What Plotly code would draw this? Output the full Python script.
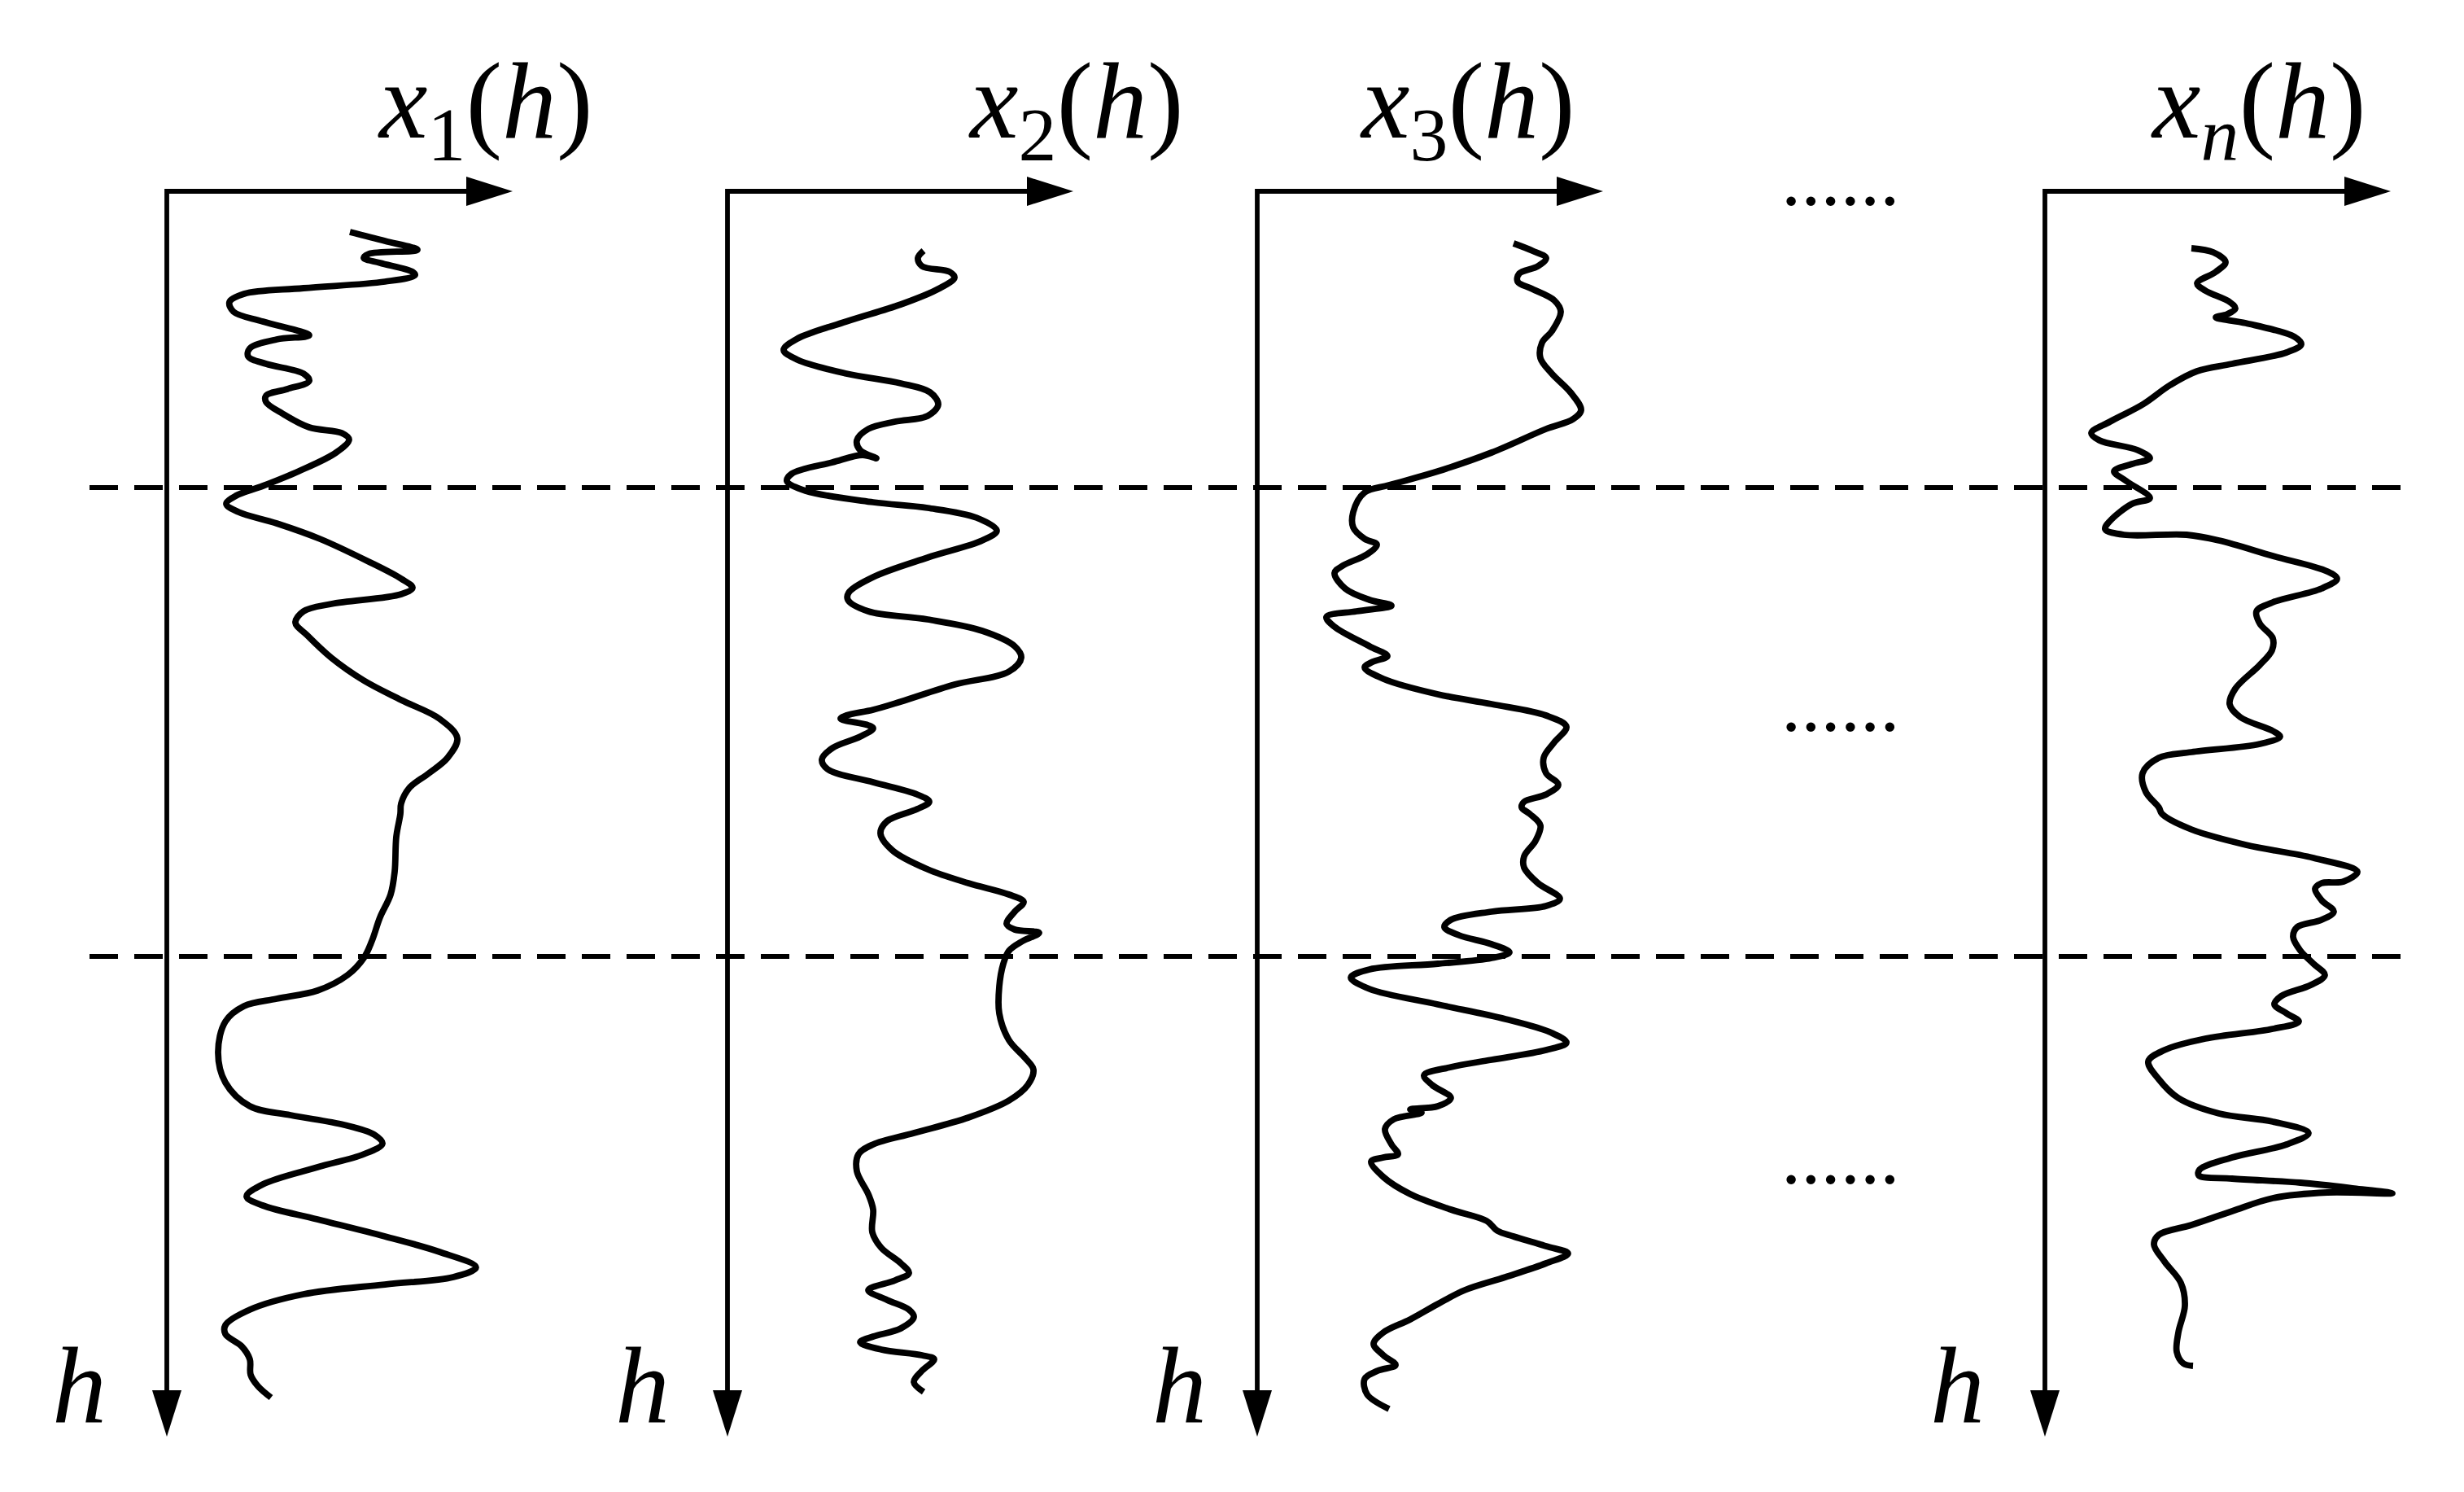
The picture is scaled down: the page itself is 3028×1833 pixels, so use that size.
import plotly.graph_objects as go

# ---------------- data (value x_i(h) measured from each panel's h-axis, depth h downward) ----------------
curve1_h = [50, 61, 72, 77, 82, 88, 99, 103, 111, 119, 126, 136, 148, 160, 177, 182, 193, 203, 212, 224,
            233, 243, 251, 259, 273, 290, 297, 305, 321, 344, 362, 374, 384, 394, 408, 427, 455, 476, 487,
            495, 507, 516, 530, 545, 573, 601, 625, 648, 672, 696, 715, 733, 752, 765, 793, 836, 864, 892,
            921, 942, 963, 982, 992, 1001, 1020, 1058, 1095, 1124, 1135, 1147, 1159, 1170, 1183, 1199, 1220,
            1235, 1246, 1263, 1284, 1303, 1322, 1334, 1343, 1355, 1374, 1393, 1404, 1419, 1435, 1454, 1468, 1482]
curve1_x = [225, 268, 308, 248, 242, 262, 302, 305, 268, 168, 95, 77, 82, 118, 175, 135, 102, 100, 122, 168,
            175, 148, 122, 122, 142, 175, 215, 224, 208, 162, 118, 85, 73, 88, 135, 188, 248, 288, 302,
            288, 202, 168, 158, 172, 202, 242, 288, 335, 357, 345, 322, 298, 288, 287, 282, 280, 275, 262,
            252, 242, 222, 185, 135, 95, 72, 63, 72, 102, 152, 218, 255, 265, 242, 185, 118,
            98, 118, 185, 268, 335, 380, 352, 268, 168, 102, 72, 72, 92, 102, 103, 112, 128]

curve2_h = [73, 82, 92, 99, 106, 120, 139, 160, 181, 195, 207, 224, 236, 247, 262, 276, 283, 292, 306, 318,
            328, 324, 333, 347, 356, 368, 382, 389, 401, 417, 429, 450, 474, 493, 502, 516, 526, 540, 559,
            573, 590, 606, 627, 637, 644, 648, 656, 660, 670, 684, 698, 710, 726, 741, 750, 759, 774, 789,
            810, 833, 850, 864, 873, 885, 900, 907, 911, 921, 933, 949, 977, 1010, 1043, 1065, 1079, 1098,
            1117, 1138, 1157, 1171, 1183, 1204, 1232, 1251, 1279, 1298, 1317, 1329, 1338, 1350, 1362, 1374,
            1383, 1397, 1407, 1414, 1423, 1430, 1435, 1449, 1463, 1475]
curve2_x = [241, 234, 239, 273, 279, 259, 213, 146, 86, 69, 86, 146, 213, 249, 259, 246, 206, 173, 159, 163,
            183, 166, 129, 79, 73, 96, 179, 246, 306, 331, 313, 246, 179, 149, 148, 173, 246, 313, 353,
            361, 346, 279, 213, 179, 146, 139, 173, 179, 163, 129, 116, 123, 179, 233, 248, 233, 196, 188,
            203, 246, 296, 346, 364, 353, 343, 353, 383, 363, 346, 339, 334, 334, 346, 366, 376, 369,
            346, 296, 229, 179, 161, 159, 173, 179, 178, 189, 213, 223, 206, 173, 196, 223,
            229, 213, 179, 163, 189, 239, 254, 239, 229, 241]

curve3_h = [64, 73, 82, 92, 101, 111, 120, 134, 148, 172, 186, 205, 224, 247, 269, 280, 292, 321, 344, 361,
            370, 394, 413, 427, 434, 446, 460, 469, 488, 502, 509, 516, 523, 535, 559, 571, 578, 585, 599,
            618, 630, 644, 658, 677, 696, 715, 729, 741, 750, 757, 765, 779, 798, 817, 831, 850, 869, 878,
            885, 895, 904, 914, 925, 935, 942, 949, 956, 966, 980, 999, 1017, 1034, 1046, 1055, 1067, 1076,
            1086, 1098, 1114, 1124, 1128, 1132, 1140, 1152, 1171, 1183, 1187, 1192, 1211, 1232, 1251, 1265,
            1277, 1284, 1296, 1305, 1317, 1334, 1350, 1367, 1386, 1402, 1416, 1430, 1442, 1449, 1459, 1478, 1496]
curve3_x = [315, 338, 355, 345, 322, 320, 338, 365, 373, 362, 350, 348, 362, 385, 398, 388, 355, 288, 222, 162,
            132, 118, 118, 132, 147, 135, 105, 95, 108, 138, 165, 122, 85, 95, 138, 160, 142, 132, 155,
            222, 288, 355, 380, 365, 352, 355, 370, 355, 328, 325, 335, 348, 342, 328, 328, 345, 372, 355,
            288, 238, 230, 248, 288, 310, 288, 222, 138, 115, 138, 222, 305, 362, 380, 355, 288, 238,
            205, 215, 238, 222, 188, 202, 168, 157, 165, 173, 155, 140, 155, 188, 238, 282,
            295, 315, 355, 382, 355, 305, 255, 222, 188, 155, 143, 155, 170, 148, 132, 135, 162]

curven_h = [70, 75, 87, 99, 113, 122, 136, 144, 151, 155, 162, 179, 188, 198, 212, 221, 238, 262, 283, 297,
            306, 318, 328, 335, 344, 356, 377, 384, 405, 415, 422, 422, 429, 448, 467, 476, 488, 505, 516,
            531, 549, 564, 582, 611, 630, 646, 663, 670, 679, 689, 696, 715, 738, 757, 765, 784, 803, 819,
            836, 848, 850, 857, 871, 885, 895, 904, 916, 933, 949, 963, 975, 989, 999, 1010, 1020, 1029,
            1041, 1055, 1069, 1091, 1114, 1133, 1143, 1157, 1171, 1187, 1202, 1209, 1213, 1218, 1225, 1231,
            1230, 1237, 1253, 1270, 1282, 1294, 1315, 1341, 1369, 1402, 1426, 1440, 1443]
curven_x = [180, 207, 222, 210, 187, 197, 227, 234, 224, 210, 247, 307, 315, 297, 230, 187, 154, 120, 80, 57,
            67, 114, 129, 107, 85, 100, 129, 107, 80, 74, 97, 174, 214, 280, 347, 359, 340, 280, 260,
            264, 280, 279, 264, 234, 227, 240, 280, 289, 264, 180, 140, 120, 124, 140, 144, 180, 247, 330,
            384, 367, 340, 332, 340, 355, 340, 310, 305, 314, 330, 344, 327, 290, 282, 297, 312, 280,
            197, 147, 127, 140, 164, 214, 280, 324, 297, 230, 190, 189, 230, 314, 380, 427,
            347, 280, 230, 180, 140, 134, 147, 167, 172, 164, 162, 170, 182]

panel_labels = ["<i>x</i><sub>1</sub>(<i>h</i>)", "<i>x</i><sub>2</sub>(<i>h</i>)",
                "<i>x</i><sub>3</sub>(<i>h</i>)", "<i>x</i><sub><i>n</i></sub>(<i>h</i>)"]
depth_label = "<i>h</i>"
ellipsis_text = "......"

curves = [(curve1_x, curve1_h), (curve2_x, curve2_h), (curve3_x, curve3_h), (curven_x, curven_h)]

# ---------------- layout geometry (page pixels of the 3028x1833 window) ----------------
PAGE_W, PAGE_H = 3028, 1833
BODY = 8                               # default body margin of the html page
W, H = PAGE_W - 2 * BODY, PAGE_H - 2 * BODY
ORIGINS = [205, 894, 1545, 2513]       # page x pixel of each panel's h axis
TOP = 235                              # page y pixel of the x_i(h) axes
XMIN, XMAX = -140, 460                 # panel x range (1 unit = 1 px)
ARROW_X_END = 425                      # tip of horizontal arrow
ARROW_H_END = 1530                     # tip of vertical arrow
ARROW_LEN, ARROW_HALF = 57, 18
LABEL_X = [391, 428, 258, 262]         # centre of x_i(h) label in panel units
LABEL_H = -102
HLABEL_X = [-108, -105, -96, -108]
HLABEL_H = 1467
DASH_H = [364, 940]
DASH_PX = (110, 2955)
ELLIPSIS_PX = 2262
ELLIPSIS_H = [-16, 630, 1186]

FONT = "Times New Roman, Liberation Serif, Times, DejaVu Serif, serif"
LW = 7.8
AXW = 5.8


def paper_x(px):
    return (px - BODY) / W


fig = go.Figure()
shapes, annotations = [], []
y_top = -(TOP - BODY)
layout = dict(
    width=W, height=H,
    margin=dict(l=0, r=0, t=0, b=0, pad=0),
    paper_bgcolor="white", plot_bgcolor="white",
    showlegend=False,
    yaxis=dict(domain=[0, 1], range=[y_top + H, y_top], showgrid=False, zeroline=False,
               showticklabels=False, ticks="", showline=False, fixedrange=True),
)

for i, (o, (xv, hv)) in enumerate(zip(ORIGINS, curves)):
    xa = "x" if i == 0 else f"x{i + 1}"
    key = "xaxis" if i == 0 else f"xaxis{i + 1}"
    layout[key] = dict(domain=[paper_x(o + XMIN), paper_x(o + XMAX)], range=[XMIN, XMAX], anchor="y",
                       showgrid=False, zeroline=False, showticklabels=False, ticks="",
                       showline=False, fixedrange=True)
    fig.add_trace(go.Scatter(x=xv, y=hv, xaxis=xa, yaxis="y", mode="lines",
                             line=dict(color="black", width=LW, shape="spline", smoothing=1.0),
                             hoverinfo="skip"))
    # axes as an L-shaped path
    shapes.append(dict(type="path", xref=xa, yref="y",
                       path=f"M 0,{ARROW_H_END - ARROW_LEN + 5} L 0,0 L {ARROW_X_END - ARROW_LEN + 5},0",
                       line=dict(color="black", width=AXW), fillcolor="rgba(0,0,0,0)"))
    shapes.append(dict(type="path", xref=xa, yref="y",
                       path=(f"M {ARROW_X_END - ARROW_LEN},{-ARROW_HALF} L {ARROW_X_END},0 "
                             f"L {ARROW_X_END - ARROW_LEN},{ARROW_HALF} Z"),
                       line=dict(color="black", width=0), fillcolor="black"))
    shapes.append(dict(type="path", xref=xa, yref="y",
                       path=(f"M {-ARROW_HALF},{ARROW_H_END - ARROW_LEN} L 0,{ARROW_H_END} "
                             f"L {ARROW_HALF},{ARROW_H_END - ARROW_LEN} Z"),
                       line=dict(color="black", width=0), fillcolor="black"))
    annotations.append(dict(xref=xa, yref="y", x=LABEL_X[i], y=LABEL_H, text=panel_labels[i],
                            showarrow=False, xanchor="center", yanchor="middle",
                            font=dict(family=FONT, size=134, color="black")))
    annotations.append(dict(xref=xa, yref="y", x=HLABEL_X[i], y=HLABEL_H, text=depth_label,
                            showarrow=False, xanchor="center", yanchor="middle",
                            font=dict(family=FONT, size=134, color="black")))

for dh in DASH_H:
    shapes.append(dict(type="line", xref="paper", yref="y", x0=paper_x(DASH_PX[0]), x1=paper_x(DASH_PX[1]),
                       y0=dh, y1=dh, line=dict(color="black", width=6, dash="35px,20px")))

for eh in ELLIPSIS_H:
    annotations.append(dict(xref="paper", yref="y", x=paper_x(ELLIPSIS_PX), y=eh, text=ellipsis_text,
                            showarrow=False, xanchor="center", yanchor="middle",
                            font=dict(family=FONT, size=97, color="black")))

layout["shapes"] = shapes
layout["annotations"] = annotations
fig.update_layout(**layout)
fig.write_html("out.html")
